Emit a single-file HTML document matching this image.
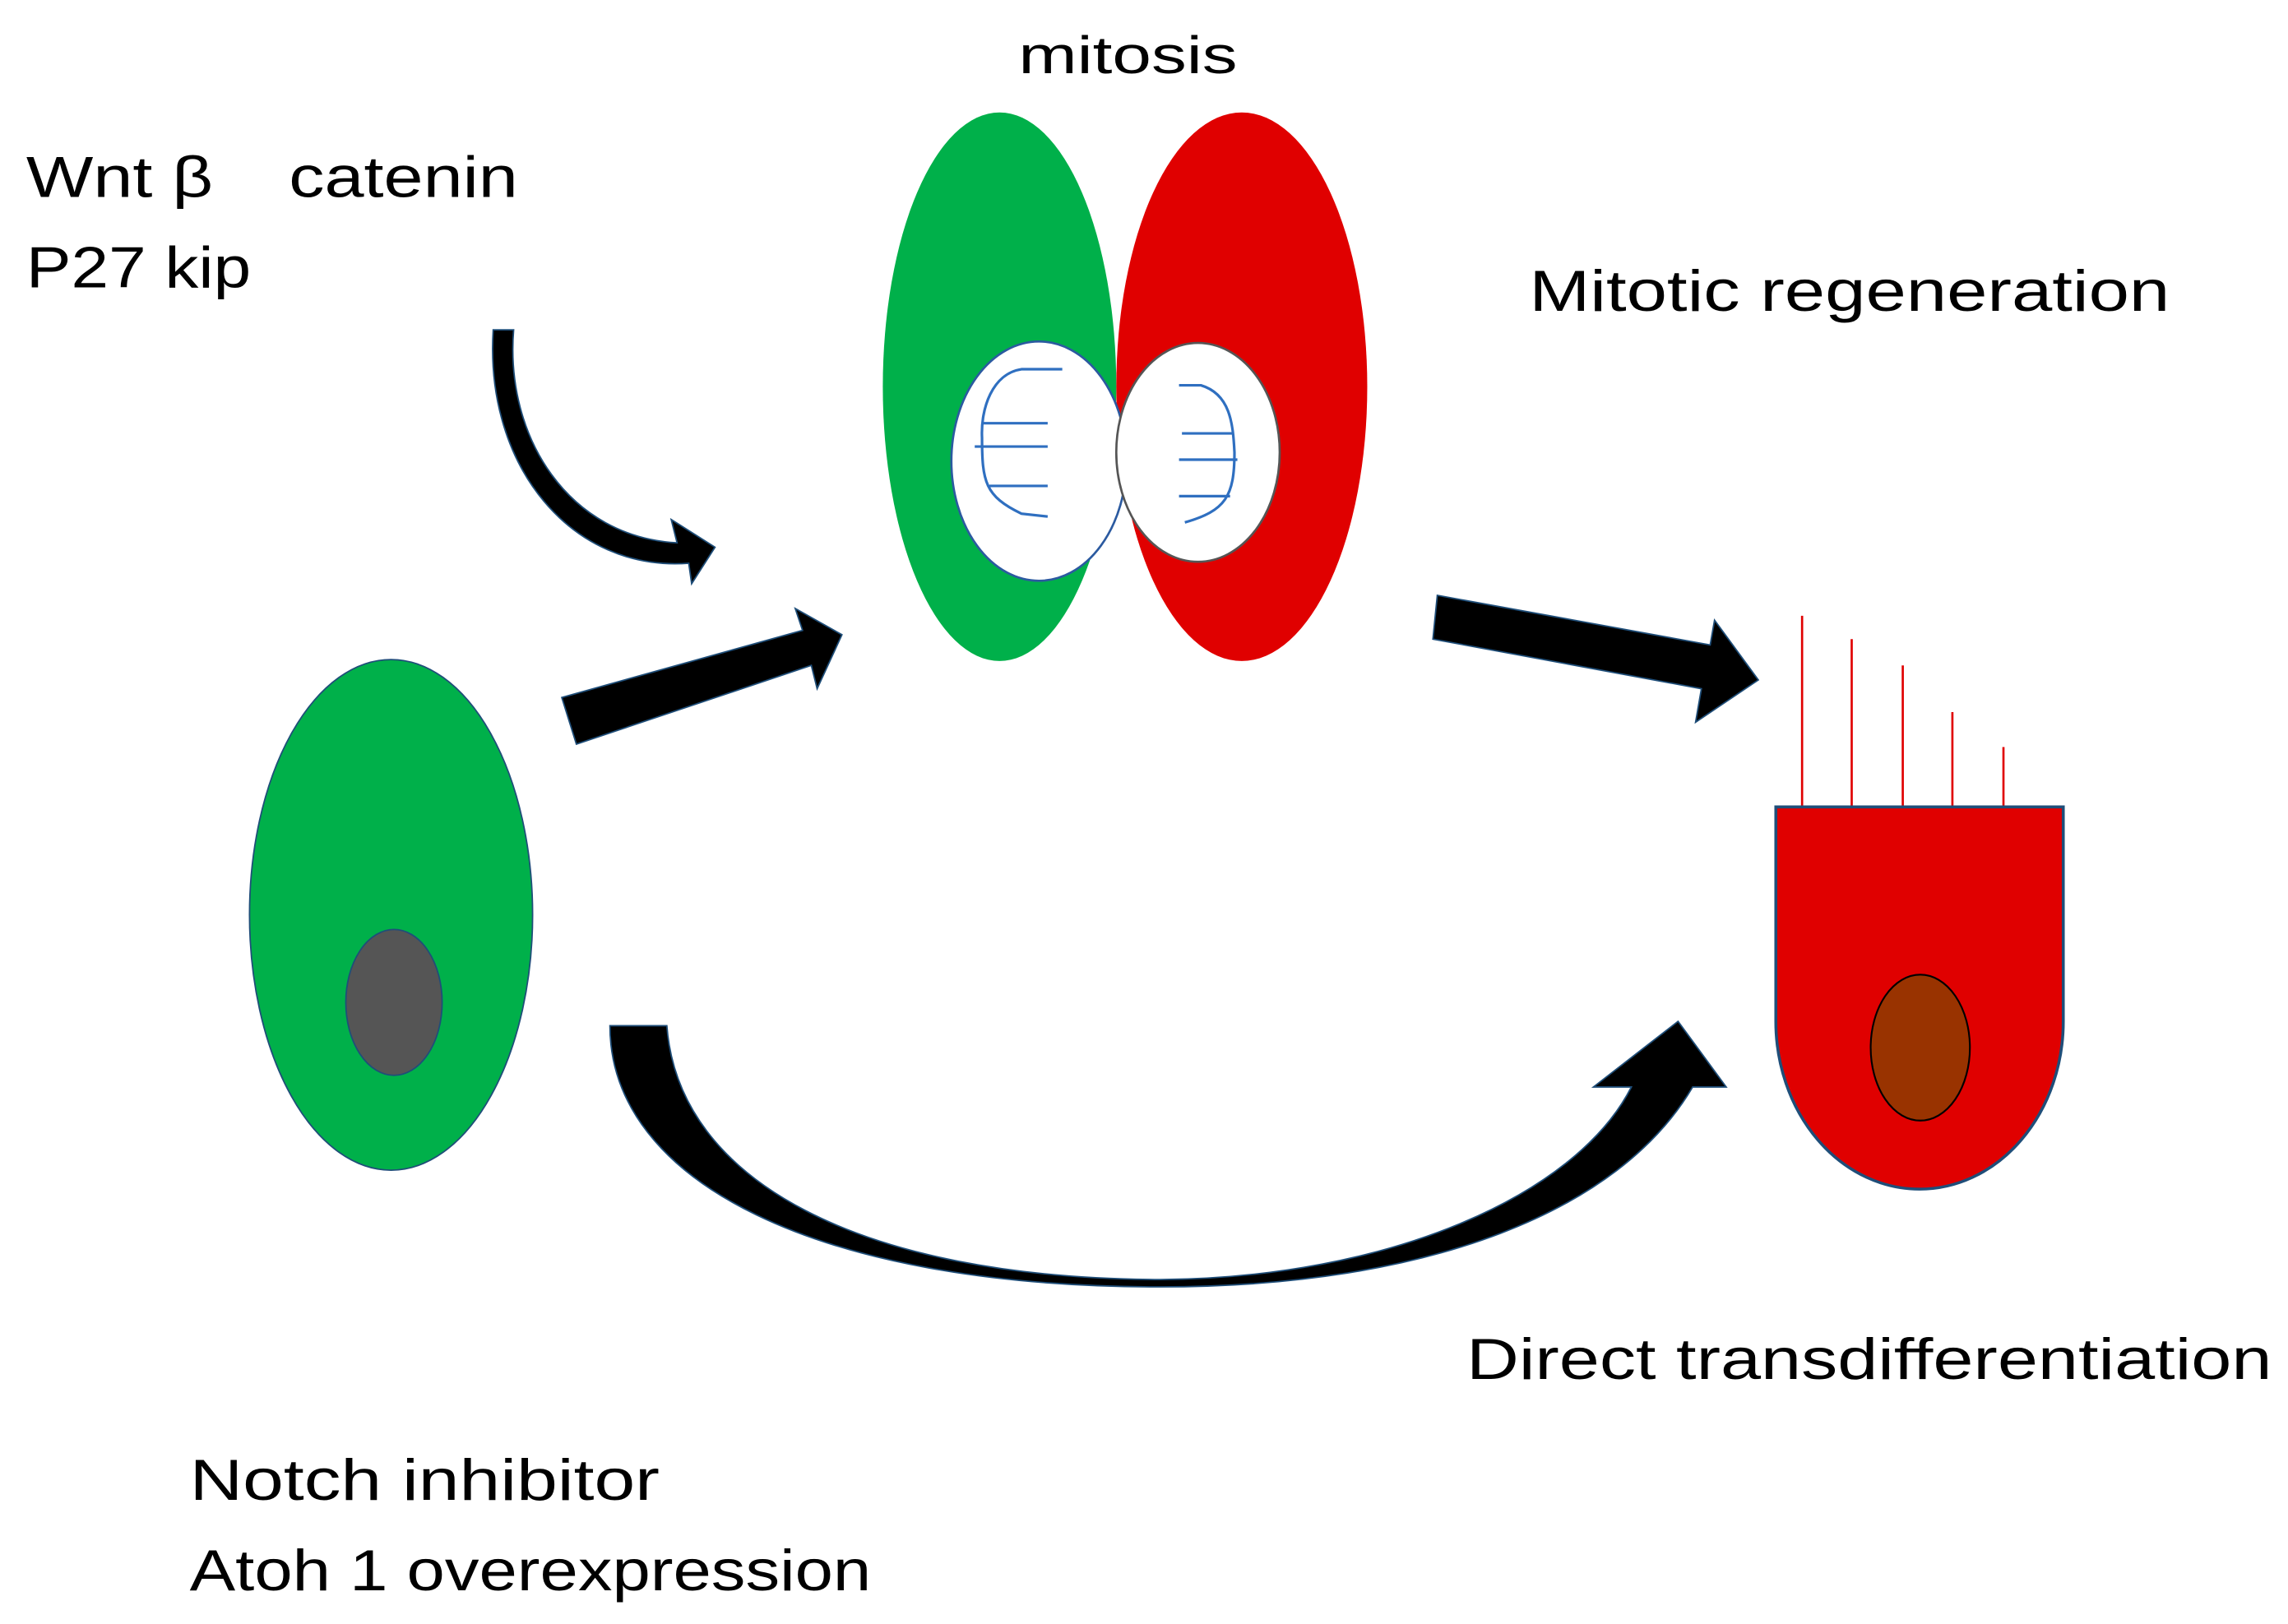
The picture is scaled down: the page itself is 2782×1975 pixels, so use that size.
<!DOCTYPE html>
<html><head><meta charset="utf-8"><style>html,body{margin:0;padding:0;background:#fff}svg{display:block}</style></head>
<body>
<svg width="2782" height="1975" viewBox="0 0 1568 1113" xmlns="http://www.w3.org/2000/svg" font-family="Liberation Sans, sans-serif" fill="#000">
<rect width="1568" height="1113" fill="#fff"/>
<text x="698" y="50" font-size="36" textLength="150" lengthAdjust="spacingAndGlyphs">mitosis</text>
<text x="18" y="135" font-size="40" textLength="128" lengthAdjust="spacingAndGlyphs">Wnt β</text>
<text x="198" y="135" font-size="40" textLength="157" lengthAdjust="spacingAndGlyphs">catenin</text>
<text x="18" y="197" font-size="40" textLength="154" lengthAdjust="spacingAndGlyphs">P27 kip</text>
<text x="1048" y="213" font-size="40" textLength="439" lengthAdjust="spacingAndGlyphs">Mitotic regeneration</text>
<text x="1005" y="945" font-size="40" textLength="552" lengthAdjust="spacingAndGlyphs">Direct transdifferentiation</text>
<text x="130" y="1028" font-size="40" textLength="322" lengthAdjust="spacingAndGlyphs">Notch inhibitor</text>
<text x="130" y="1090" font-size="40" textLength="467" lengthAdjust="spacingAndGlyphs">Atoh 1 overexpression</text>

<ellipse cx="851" cy="265" rx="86" ry="188" fill="#e00000"/>
<ellipse cx="685" cy="265" rx="80" ry="188" fill="#00b04a"/>
<ellipse cx="712" cy="316" rx="60" ry="82" fill="#fff" stroke="#2b5aa0" stroke-width="1.5"/>
<ellipse cx="821" cy="310" rx="56" ry="75" fill="#fff" stroke="#555" stroke-width="1.5"/>
<g stroke="#2f6fc0" stroke-width="1.8" fill="none">
<path d="M728,253 H700 C680,256 672,280 673,300 C673,330 675,340 700,352 L718,354"/>
<path d="M674,290 H718"/><path d="M668,306 H718"/><path d="M678,333 H718"/>
<path d="M808,264 H823 C843,270 845,290 846,310 C846,340 840,350 812,358"/>
<path d="M810,297 H845"/><path d="M808,315 H848"/><path d="M808,340 H843"/>
</g>

<ellipse cx="268" cy="627" rx="97" ry="175" fill="#00b04a" stroke="#1f4e79" stroke-width="1"/>
<ellipse cx="270" cy="687" rx="33" ry="50" fill="#555" stroke="#1f4e79" stroke-width="1"/>

<g stroke="#e00000" stroke-width="1.5">
<line x1="1235" y1="422" x2="1235" y2="553"/><line x1="1269" y1="438" x2="1269" y2="553"/>
<line x1="1304" y1="456" x2="1304" y2="553"/><line x1="1338" y1="488" x2="1338" y2="553"/>
<line x1="1373" y1="512" x2="1373" y2="553"/>
</g>
<path d="M1217,553 H1414 V700 A98.5,115 0 0 1 1217,700 Z" fill="#e00000" stroke="#1f4e79" stroke-width="2"/>
<ellipse cx="1316" cy="718" rx="34" ry="50" fill="#993300" stroke="#000" stroke-width="1.2"/>

<path d="M385,478 L550,432 L545,417 L577,435 L560,472 L556,456 L395,510 Z" stroke="#1f4e79" stroke-width="1"/>
<path d="M985,408 L1172,442 L1175,425 L1205,466 L1162,495 L1166,472 L982,438 Z" stroke="#1f4e79" stroke-width="1"/>
<path d="M338,226 L352,226 C346,300 390,368 464,372 L460,356 L490,375 L474,400 L472,386 C392,392 332,320 338,226 Z" stroke="#1f4e79" stroke-width="1"/>
<path d="M418,703 L457,703 C465,810 590,876 795,877 C950,876 1080,820 1118,745 L1092,745 L1150,700 L1183,745 L1160,745 C1110,830 980,882 795,882 C560,882 418,810 418,703 Z" stroke="#1f4e79" stroke-width="1"/>
</svg>
</body></html>
